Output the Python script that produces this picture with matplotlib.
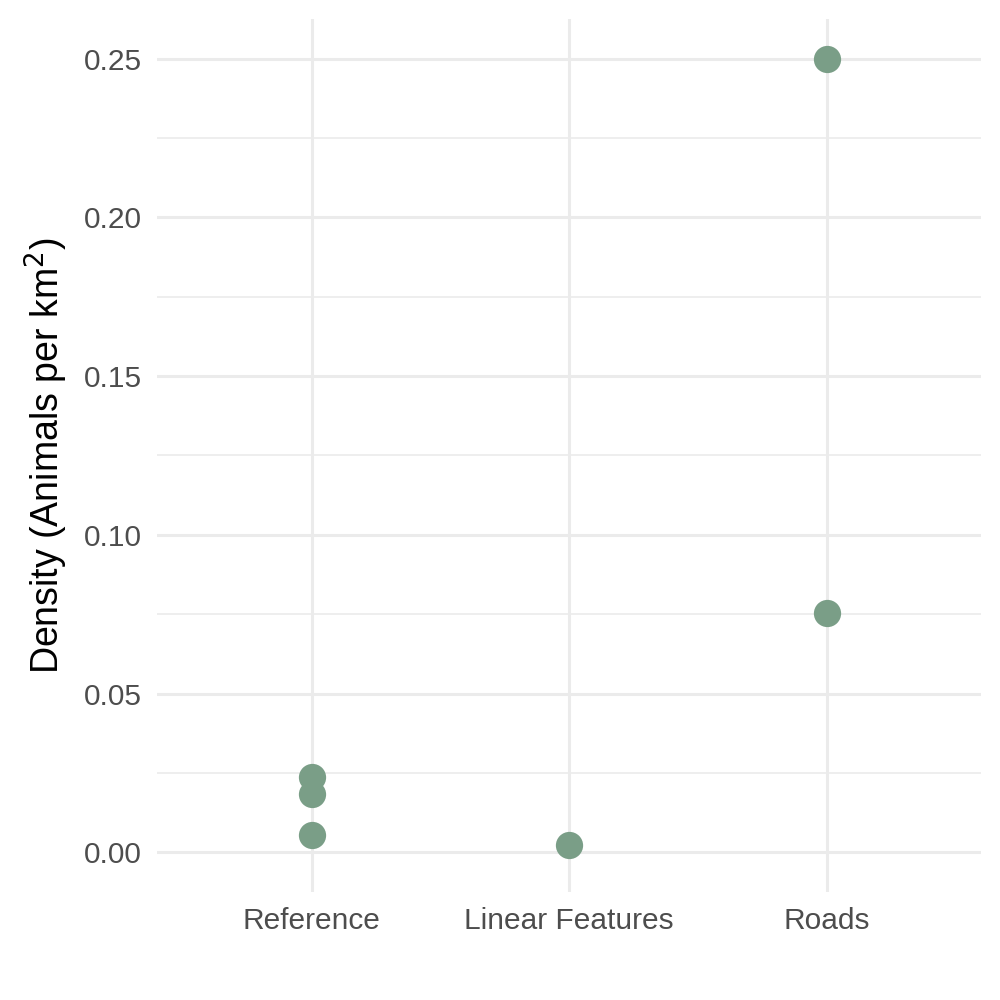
import numpy as np
import matplotlib.pyplot as plt
from matplotlib.ticker import MultipleLocator

plt.rcParams['font.family'] = ['Liberation Sans', 'DejaVu Sans']

# data
categories = ['Reference', 'Linear Features', 'Roads']
point_cat = ['Reference', 'Reference', 'Reference', 'Linear Features', 'Roads', 'Roads']
density = [0.0237, 0.0184, 0.0056, 0.0022, 0.0753, 0.2500]

fig = plt.figure(figsize=(10, 10), dpi=100)
ax = fig.add_axes([0.157, 0.108, 0.824, 0.873])

xpos = [categories.index(c) + 1 for c in point_cat]
ax.scatter(xpos, density, s=385, color='#7A9E87', zorder=3, linewidths=0)

ax.set_xlim(0.4, 3.6)
ax.set_ylim(-0.0125, 0.2625)
ax.set_xticks([1, 2, 3])
ax.set_xticklabels(categories)
ax.yaxis.set_major_locator(MultipleLocator(0.05))
ax.yaxis.set_minor_locator(MultipleLocator(0.025))
ax.yaxis.set_major_formatter(lambda v, p: f'{v:.2f}')

ax.grid(which='major', color='#EBEBEB', linewidth=2.2)
ax.grid(which='minor', axis='y', color='#EBEBEB', linewidth=1.2)
ax.set_axisbelow(True)
for s in ax.spines.values():
    s.set_visible(False)

ax.tick_params(axis='both', which='both', length=0, labelsize=21.5, labelcolor='#4D4D4D')
ax.tick_params(axis='y', pad=11)
ax.tick_params(axis='x', pad=11)

ax.set_ylabel('Density (Animals per km$^2$)', fontsize=27, color='black', labelpad=10)

fig.savefig('out.png', dpi=100)
